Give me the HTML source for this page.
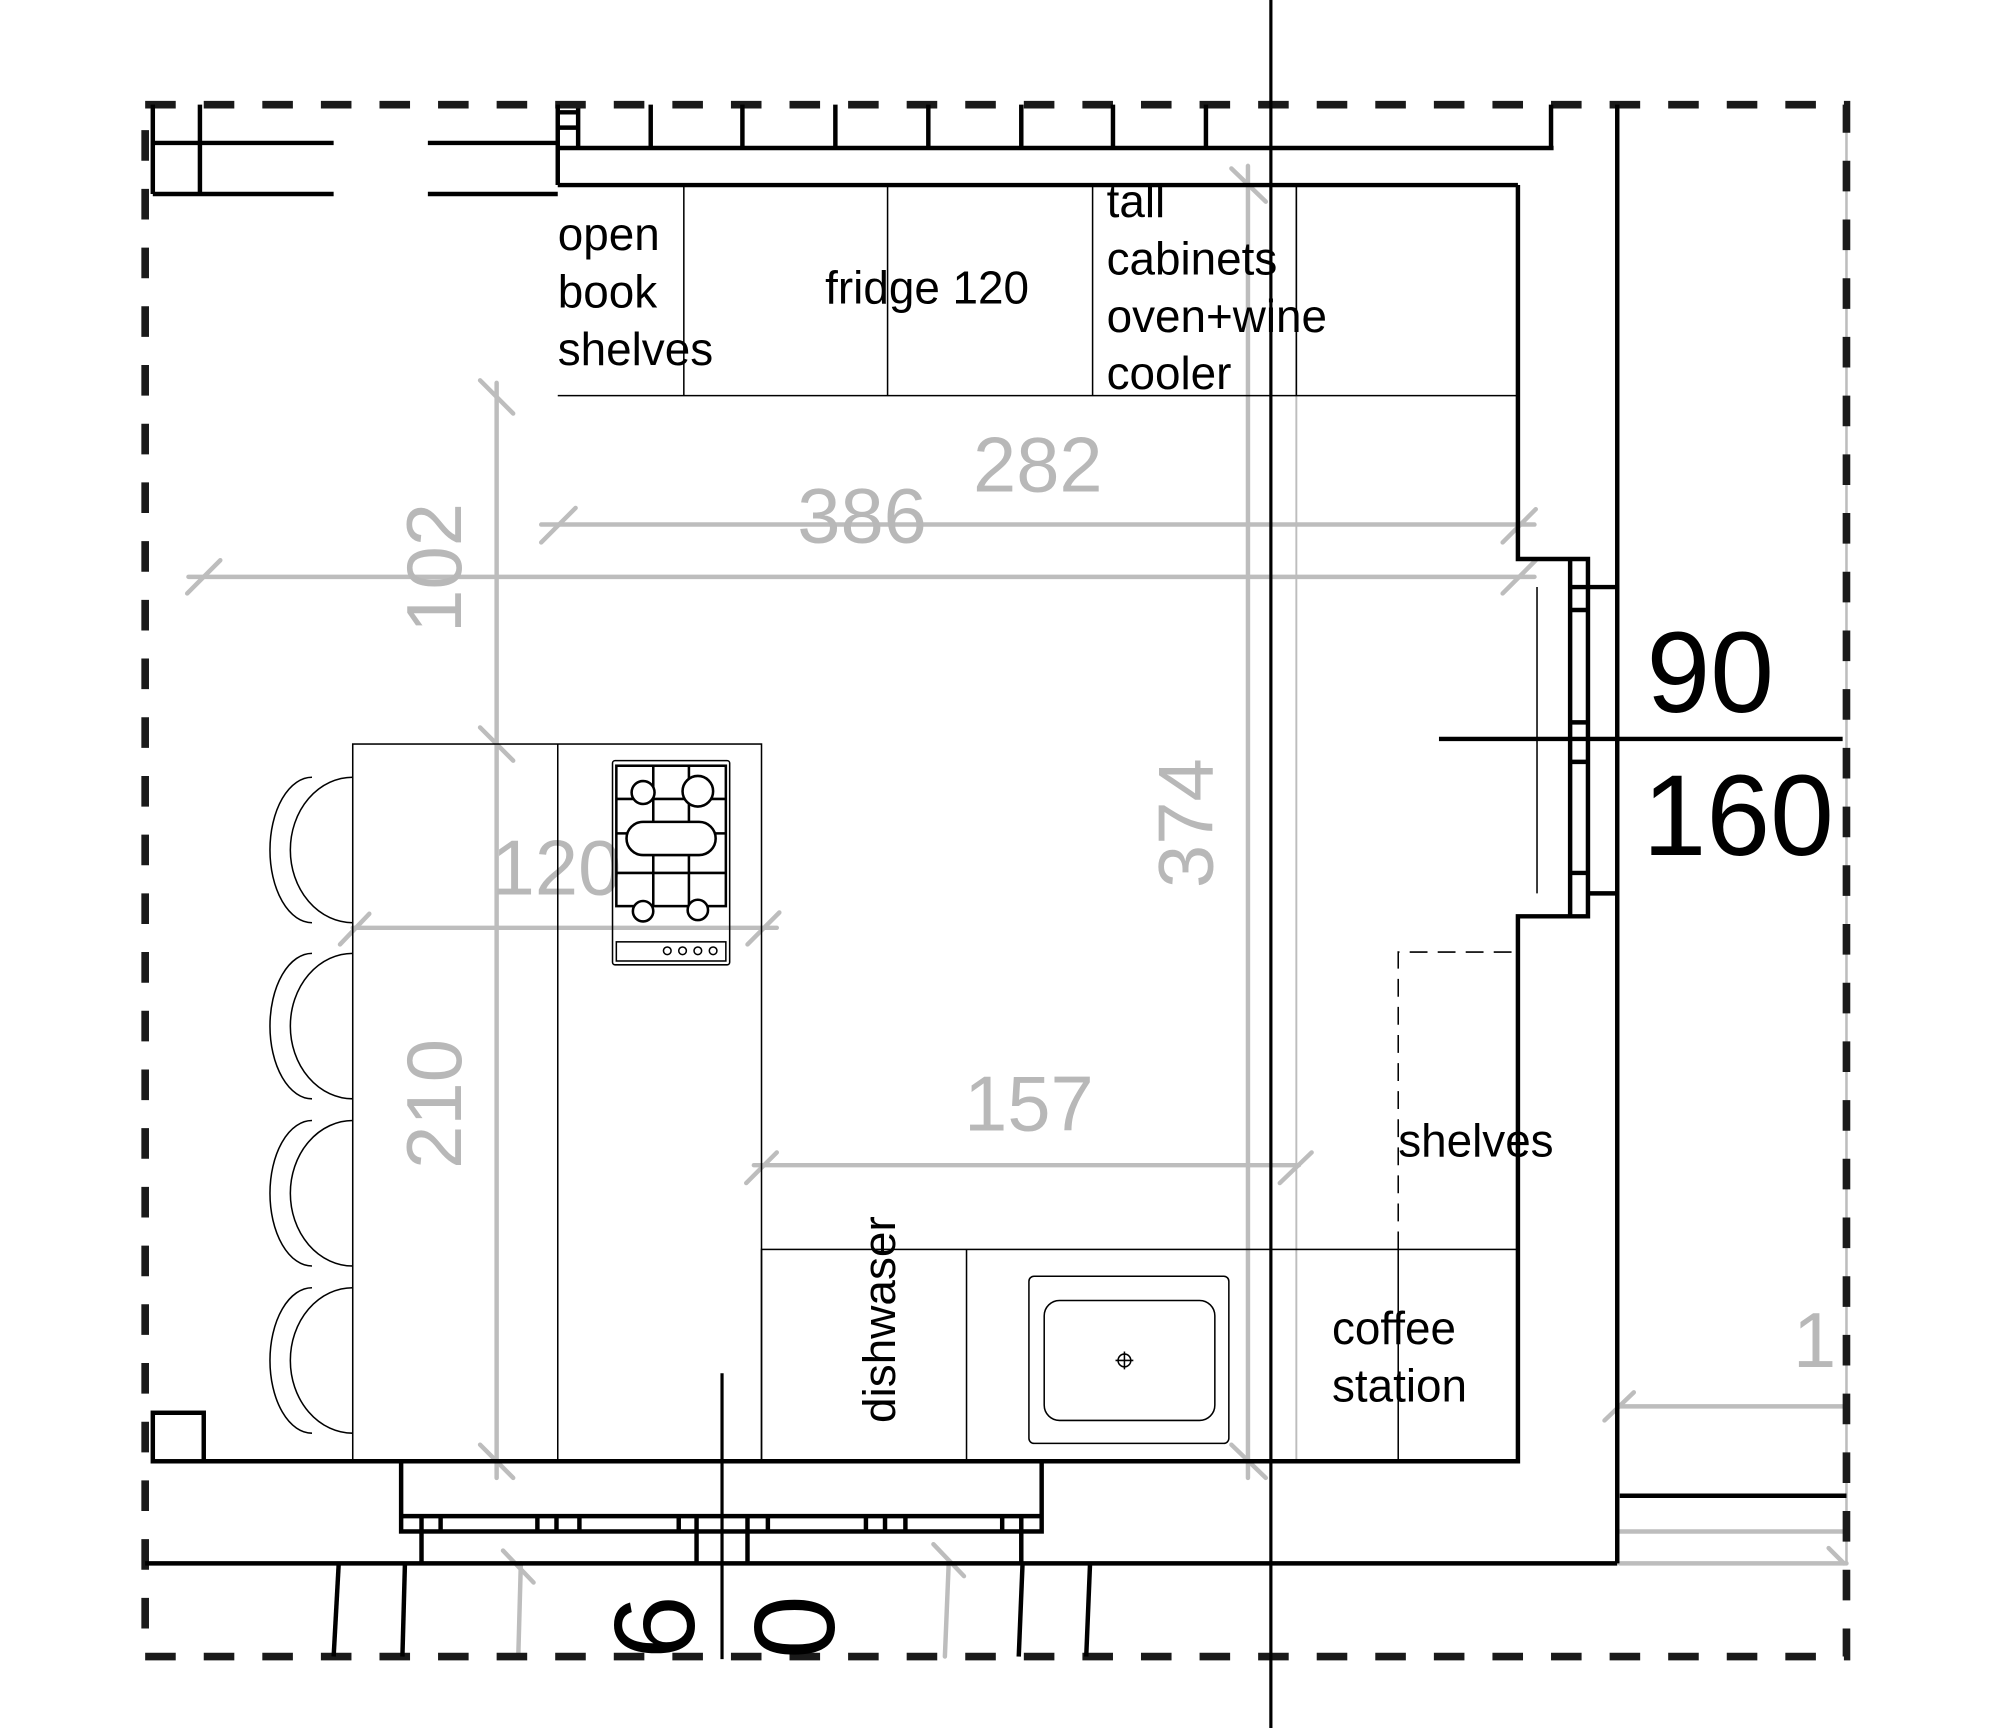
<!DOCTYPE html>
<html><head><meta charset="utf-8"><style>html,body{margin:0;padding:0;background:#fff}svg{display:block}</style></head>
<body>
<svg width="1998" height="1728" viewBox="0 0 1569 1354" preserveAspectRatio="none" xmlns="http://www.w3.org/2000/svg" font-family="Liberation Sans, Arial, sans-serif">
<rect width="1569" height="1354" fill="#fff"/>
<g stroke="#bdbdbd" stroke-width="3.5" fill="none" stroke-linecap="round">
<line x1="425" y1="411" x2="1205" y2="411"/><line x1="425" y1="425" x2="452" y2="398"/><line x1="1180" y1="425" x2="1206" y2="399"/>
<line x1="148" y1="452" x2="1205" y2="452"/><line x1="147" y1="465" x2="173" y2="439"/><line x1="1180" y1="465" x2="1206" y2="439"/>
<line x1="390" y1="300" x2="390" y2="1158"/><line x1="377" y1="298" x2="403" y2="324"/><line x1="377" y1="570" x2="403" y2="596"/><line x1="377" y1="1132" x2="403" y2="1158"/>
<line x1="277" y1="727" x2="610" y2="727"/><line x1="267" y1="740" x2="290" y2="716"/><line x1="587" y1="740" x2="612" y2="715"/>
<line x1="980" y1="130" x2="980" y2="1158"/><line x1="967" y1="132" x2="994" y2="158"/><line x1="967" y1="1132" x2="994" y2="1158"/>
<line x1="592" y1="913" x2="1020" y2="913"/><line x1="586" y1="927" x2="610" y2="903"/><line x1="1005" y1="927" x2="1030" y2="903"/>
<line x1="1272" y1="1102" x2="1450" y2="1102"/><line x1="1260" y1="1113" x2="1283" y2="1091"/>
<line x1="1272" y1="1200" x2="1450" y2="1200"/><line x1="1272" y1="1225" x2="1450" y2="1225"/><line x1="1436" y1="1213" x2="1448" y2="1225"/>
<line x1="1450" y1="82" x2="1450" y2="1225" stroke-width="2"/>
<line x1="1018" y1="145" x2="1018" y2="1145" stroke-width="1.5"/>
<line x1="407" y1="1298" x2="409" y2="1225"/><line x1="395" y1="1215" x2="419" y2="1240"/>
<line x1="742" y1="1298" x2="745" y2="1225"/><line x1="733" y1="1210" x2="757" y2="1235"/>
</g>
<g fill="#b8b8b8" font-size="61">
<text x="815" y="385" text-anchor="middle">282</text>
<text x="677" y="425" text-anchor="middle">386</text>
<text x="437" y="701" text-anchor="middle">120</text>
<text x="808" y="886" text-anchor="middle">157</text>
<text x="1408" y="1071">1</text>
<text transform="translate(362,445) rotate(-90)" text-anchor="middle">102</text>
<text transform="translate(362,865) rotate(-90)" text-anchor="middle">210</text>
<text transform="translate(952,645) rotate(-90)" text-anchor="middle">374</text>
</g>
<rect x="114" y="82" width="1336" height="1216" fill="none" stroke="#1a1a1a" stroke-width="6" stroke-dasharray="24,22"/>
<g stroke="#000" fill="none">
<line x1="998" y1="0" x2="998" y2="1356" stroke-width="2.5"/>
<g stroke-width="3.5">
<line x1="120" y1="82" x2="120" y2="152"/><line x1="157" y1="82" x2="157" y2="152"/>
<line x1="120" y1="112" x2="262" y2="112"/><line x1="120" y1="152" x2="262" y2="152"/>
<line x1="336" y1="112" x2="438" y2="112"/><line x1="336" y1="152" x2="438" y2="152"/>
<line x1="438" y1="82" x2="438" y2="145"/><line x1="454" y1="85" x2="454" y2="116"/>
<line x1="438" y1="100" x2="454" y2="100"/><line x1="438" y1="88" x2="454" y2="88"/>
<line x1="438" y1="116" x2="1220" y2="116"/>
<line x1="511" y1="82" x2="511" y2="116"/><line x1="583" y1="82" x2="583" y2="116"/><line x1="656" y1="82" x2="656" y2="116"/><line x1="729" y1="82" x2="729" y2="116"/><line x1="802" y1="82" x2="802" y2="116"/><line x1="874" y1="82" x2="874" y2="116"/><line x1="947" y1="82" x2="947" y2="116"/><line x1="1218" y1="82" x2="1218" y2="116"/>
<line x1="438" y1="145" x2="1192" y2="145"/>
<polyline points="1192,145 1192,438 1247,438 1247,718 1192,718 1192,1145 160,1145"/>
<line x1="1233" y1="438" x2="1233" y2="718"/>
<line x1="1247" y1="460" x2="1270" y2="460"/><line x1="1247" y1="700" x2="1270" y2="700"/>
<line x1="1233" y1="460" x2="1247" y2="460"/><line x1="1233" y1="478" x2="1247" y2="478"/><line x1="1233" y1="566" x2="1247" y2="566"/><line x1="1233" y1="597" x2="1247" y2="597"/><line x1="1233" y1="684" x2="1247" y2="684"/>
<line x1="1270" y1="82" x2="1270" y2="1225"/>
<line x1="1272" y1="1172" x2="1450" y2="1172"/>
<line x1="1130" y1="579" x2="1447" y2="579"/>
<rect x="120" y="1107" width="40" height="38"/>
<line x1="567" y1="1076" x2="567" y2="1300" stroke-width="2.5"/>
<rect x="315" y="1145" width="503" height="55"/>
<line x1="315" y1="1188" x2="818" y2="1188"/>
<line x1="114" y1="1225" x2="1270" y2="1225"/>
<line x1="331" y1="1188" x2="331" y2="1225"/><line x1="547" y1="1188" x2="547" y2="1225"/><line x1="587" y1="1188" x2="587" y2="1225"/><line x1="802" y1="1188" x2="802" y2="1225"/>
<line x1="346" y1="1188" x2="346" y2="1200"/><line x1="422" y1="1188" x2="422" y2="1200"/><line x1="437" y1="1188" x2="437" y2="1200"/><line x1="455" y1="1188" x2="455" y2="1200"/><line x1="533" y1="1188" x2="533" y2="1200"/><line x1="603" y1="1188" x2="603" y2="1200"/><line x1="680" y1="1188" x2="680" y2="1200"/><line x1="695" y1="1188" x2="695" y2="1200"/><line x1="711" y1="1188" x2="711" y2="1200"/><line x1="787" y1="1188" x2="787" y2="1200"/>
<line x1="266" y1="1225" x2="262" y2="1298"/><line x1="318" y1="1225" x2="316" y2="1298"/><line x1="803" y1="1225" x2="800" y2="1298"/><line x1="856" y1="1225" x2="853" y2="1298"/>
</g>
<g stroke-width="1.2">
<line x1="438" y1="310" x2="1192" y2="310"/>
<line x1="537" y1="145" x2="537" y2="310"/><line x1="697" y1="145" x2="697" y2="310"/><line x1="858" y1="145" x2="858" y2="310"/><line x1="1018" y1="145" x2="1018" y2="310"/>
<rect x="277" y="583" width="321" height="562"/><line x1="438" y1="583" x2="438" y2="1145"/>
<rect x="598" y="979" width="594" height="166"/>
<line x1="759" y1="979" x2="759" y2="1145"/><line x1="1098" y1="979" x2="1098" y2="1145"/>
<path d="M1098,979 V746 H1192" stroke-dasharray="14,8"/>
<line x1="1207" y1="460" x2="1207" y2="700"/>
<g id="st">
<path d="M277,609 A49,57 0 0 0 277,723 M245,609 A33,57 0 0 0 245,723"/>
</g>
<use href="#st" transform="translate(0,138)"/>
<use href="#st" transform="translate(0,269)"/>
<use href="#st" transform="translate(0,400)"/>
<rect x="481" y="596" width="92" height="160" rx="2"/>
<rect x="484" y="600" width="86" height="110" stroke-width="2"/>
<line x1="513" y1="600" x2="513" y2="710" stroke-width="2"/><line x1="541" y1="600" x2="541" y2="710" stroke-width="2"/>
<line x1="484" y1="626" x2="570" y2="626" stroke-width="2"/><line x1="484" y1="653" x2="570" y2="653" stroke-width="2"/><line x1="484" y1="684" x2="570" y2="684" stroke-width="2"/>
<circle cx="505" cy="621" r="9" fill="#fff" stroke-width="2"/><circle cx="548" cy="620" r="12" fill="#fff" stroke-width="2"/>
<circle cx="505" cy="714" r="8" fill="#fff" stroke-width="2"/><circle cx="548" cy="713" r="8" fill="#fff" stroke-width="2"/>
<rect x="492" y="644" width="70" height="26" rx="13" fill="#fff" stroke-width="2"/>
<rect x="484" y="738" width="86" height="15"/>
<circle cx="524" cy="745" r="3"/><circle cx="536" cy="745" r="3"/><circle cx="548" cy="745" r="3"/><circle cx="560" cy="745" r="3"/>
<rect x="808" y="1000" width="157" height="131" rx="4"/>
<rect x="820" y="1019" width="134" height="94" rx="12"/>
<circle cx="883" cy="1066" r="5"/><line x1="876" y1="1066" x2="890" y2="1066"/><line x1="883" y1="1059" x2="883" y2="1073"/>
</g>
</g>
<g fill="#000" font-size="36">
<text x="438" y="196">open</text><text x="438" y="241">book</text><text x="438" y="286">shelves</text>
<text x="648" y="238">fridge 120</text>
<text x="869" y="170">tall</text><text x="869" y="215">cabinets</text><text x="869" y="260">oven+wine</text><text x="869" y="305">cooler</text>
<text x="1098" y="906">shelves</text>
<text x="1046" y="1053">coffee</text><text x="1046" y="1098">station</text>
<text transform="translate(703,1115) rotate(-90)">dishwaser</text>
</g>
<g fill="#000" font-size="90">
<text x="1343" y="558" text-anchor="middle">90</text>
<text x="1365" y="670" text-anchor="middle">160</text>
<text transform="translate(545,1275) rotate(-90)" text-anchor="middle">6</text>
<text transform="translate(655,1275) rotate(-90)" text-anchor="middle">0</text>
</g>
</svg>
</body></html>
